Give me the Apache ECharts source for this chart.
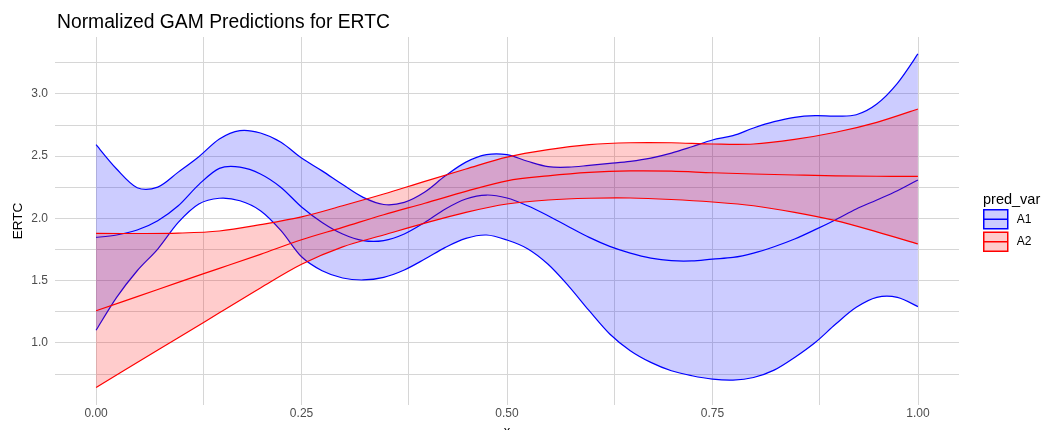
<!DOCTYPE html>
<html><head><meta charset="utf-8">
<script src="https://cdn.jsdelivr.net/npm/echarts@6/dist/echarts.min.js"></script>
<style>html,body{margin:0;padding:0;background:#fff}#c{width:1047px;height:430px}</style>
</head><body><div id="c"></div>
<script>
// ---- data ----
const xA1 = [0,0.025,0.05,0.075,0.1,0.125,0.15,0.175,0.2,0.225,0.25,0.275,0.3,0.325,0.35,0.375,0.4,0.425,0.45,0.475,0.5,0.525,0.55,0.575,0.6,0.625,0.65,0.675,0.7,0.725,0.75,0.775,0.8,0.825,0.85,0.875,0.9,0.925,0.95,0.975,1];
const a1Upper = [2.59,2.395,2.245,2.25,2.37,2.494,2.636,2.703,2.684,2.61,2.483,2.38,2.27,2.167,2.11,2.127,2.21,2.34,2.45,2.51,2.51,2.457,2.414,2.41,2.424,2.44,2.457,2.483,2.523,2.574,2.628,2.663,2.724,2.775,2.81,2.823,2.82,2.831,2.917,3.083,3.319];
const a1Fit = [1.846,1.865,1.905,1.98,2.10,2.27,2.40,2.41,2.355,2.247,2.09,1.966,1.873,1.82,1.82,1.873,1.966,2.074,2.154,2.186,2.162,2.10,2.02,1.932,1.846,1.774,1.72,1.68,1.659,1.657,1.672,1.685,1.72,1.771,1.833,1.908,1.988,2.074,2.146,2.22,2.307];
const a1Lower = [1.10,1.364,1.578,1.752,1.966,2.114,2.16,2.14,2.06,1.90,1.69,1.578,1.52,1.504,1.525,1.584,1.672,1.766,1.838,1.865,1.825,1.755,1.63,1.455,1.257,1.07,0.936,0.842,0.775,0.735,0.708,0.70,0.721,0.78,0.882,1.002,1.15,1.284,1.364,1.364,1.29];

const xA2 = [0,0.05,0.1,0.15,0.2,0.25,0.3,0.35,0.4,0.45,0.5,0.55,0.6,0.65,0.7,0.75,0.8,0.85,0.9,0.95,1];
const a2Upper = [1.878,1.877,1.88,1.897,1.948,2.01,2.10,2.194,2.296,2.395,2.49,2.55,2.59,2.606,2.606,2.596,2.596,2.633,2.69,2.77,2.877];
const a2Fit = [1.257,1.37,1.485,1.597,1.71,1.827,1.926,2.028,2.12,2.215,2.30,2.34,2.368,2.38,2.378,2.365,2.355,2.347,2.34,2.337,2.336];
const a2Lower = [0.641,0.842,1.04,1.24,1.44,1.63,1.77,1.865,1.96,2.047,2.114,2.146,2.16,2.162,2.15,2.13,2.10,2.047,1.98,1.89,1.793];

const xTickLabels = [0, 0.25, 0.5, 0.75, 1];
const yTickLabels = [1.0, 1.5, 2.0, 2.5, 3.0];
const xMinorGrid = [0.125, 0.375, 0.625, 0.875];
const yMinorGrid = [0.75, 1.25, 1.75, 2.25, 2.75, 3.25];
const groupNames = ['A1', 'A2'];

// ---- styles ----
const FONT = 'Liberation Sans, Arial, sans-serif';
const BLUE = '#0000ff', RED = '#ff0000';
const BLUE_FILL = 'rgba(0,0,255,0.2)', RED_FILL = 'rgba(255,0,0,0.2)';

// Catmull-Rom spline through pixel points -> path commands
function splinePath(pts, moveFirst) {
  let d = (moveFirst ? 'M' : 'L') + pts[0][0] + ',' + pts[0][1];
  for (let i = 0; i < pts.length - 1; i++) {
    const p0 = pts[Math.max(i - 1, 0)], p1 = pts[i], p2 = pts[i + 1], p3 = pts[Math.min(i + 2, pts.length - 1)];
    const c1x = p1[0] + (p2[0] - p0[0]) / 6, c1y = p1[1] + (p2[1] - p0[1]) / 6;
    const c2x = p2[0] - (p3[0] - p1[0]) / 6, c2y = p2[1] - (p3[1] - p1[1]) / 6;
    d += 'C' + c1x + ',' + c1y + ',' + c2x + ',' + c2y + ',' + p2[0] + ',' + p2[1];
  }
  return d;
}

function groupSeries(name, xs, lo, fit, hi, color, fill) {
  return {
    type: 'custom', name: name, silent: true, clip: true, z: 2,
    data: [[xs[0], lo[0]]],
    renderItem: function (params, api) {
      const P = (ys) => xs.map((x, i) => api.coord([x, ys[i]]));
      const up = P(hi), low = P(lo), mid = P(fit);
      const band = splinePath(up, true) + splinePath(low.slice().reverse(), false) + 'Z';
      const lineStyle = { fill: null, stroke: color, lineWidth: 1.2 };
      return {
        type: 'group',
        children: [
          { type: 'path', shape: { pathData: band }, style: { fill: fill, stroke: null } },
          { type: 'path', shape: { pathData: splinePath(up, true) }, style: lineStyle },
          { type: 'path', shape: { pathData: splinePath(low, true) }, style: lineStyle },
          { type: 'path', shape: { pathData: splinePath(mid, true) }, style: lineStyle }
        ]
      };
    }
  };
}

const gridLineStyle = { color: '#d6d6d6', width: 1, type: 'solid' };
const gridMarks = []
  .concat(yTickLabels.map(v => ({ yAxis: v })))
  .concat(yMinorGrid.map(v => ({ yAxis: v })))
  .concat(xTickLabels.map(v => ({ xAxis: v })))
  .concat(xMinorGrid.map(v => ({ xAxis: v })));

const chart = echarts.init(document.getElementById('c'), null, { renderer: 'canvas' });
chart.setOption({
  animation: false,
  backgroundColor: '#fff',
  textStyle: { fontFamily: FONT },
  title: [
    { text: 'Normalized GAM Predictions for ERTC', left: 52, top: 8,
      textStyle: { fontSize: 19.3, fontWeight: 'normal', color: '#000', fontFamily: FONT } },
    { text: 'pred_var', left: 978, top: 187,
      textStyle: { fontSize: 14.5, fontWeight: 'normal', color: '#000', fontFamily: FONT } }
  ],
  grid: { left: 55, right: 88, top: 37, bottom: 25, containLabel: false, outerBoundsMode: 'none' },
  xAxis: {
    type: 'value', min: -0.05, max: 1.05,
    name: 'x', nameLocation: 'middle', nameGap: 16,
    nameTextStyle: { fontSize: 13, color: '#000', fontFamily: FONT },
    axisLine: { show: false }, axisTick: { show: false }, splitLine: { show: false },
    axisLabel: { customValues: xTickLabels, formatter: v => v.toFixed(2), fontSize: 12, color: '#4d4d4d', margin: 3, fontFamily: FONT }
  },
  yAxis: {
    type: 'value', min: 0.50, max: 3.455,
    name: 'ERTC', nameLocation: 'middle', nameGap: 30, nameRotate: 90, nameMoveOverlap: false,
    nameTextStyle: { fontSize: 13.5, color: '#000', fontFamily: FONT },
    axisLine: { show: false }, axisTick: { show: false }, splitLine: { show: false },
    axisLabel: { customValues: yTickLabels, formatter: v => v.toFixed(1), fontSize: 12, color: '#4d4d4d', margin: 7, fontFamily: FONT }
  },
  legend: {
    orient: 'vertical', left: 983, top: 209, padding: 0,
    itemWidth: 24, itemHeight: 19, itemGap: 2, selectedMode: false,
    textStyle: { fontSize: 12, color: '#000', fontFamily: FONT, padding: [0, 0, 0, 4] },
    data: groupNames.map((n, i) => ({
      name: n,
      icon: 'path://M0,0L24,0L24,19L0,19Z M0,9.5L24,9.5',
      itemStyle: { color: i === 0 ? BLUE_FILL : RED_FILL, borderColor: i === 0 ? BLUE : RED, borderWidth: 1.5, opacity: 1 }
    }))
  },
  series: [
    { type: 'line', name: 'grid', data: [], silent: true, z: 1,
      markLine: { silent: true, symbol: ['none', 'none'], label: { show: false }, z: 1,
        lineStyle: gridLineStyle, emphasis: { disabled: true }, animation: false, data: gridMarks } },
    groupSeries('A1', xA1, a1Lower, a1Fit, a1Upper, BLUE, BLUE_FILL),
    groupSeries('A2', xA2, a2Lower, a2Fit, a2Upper, RED, RED_FILL)
  ]
});
</script></body></html>
